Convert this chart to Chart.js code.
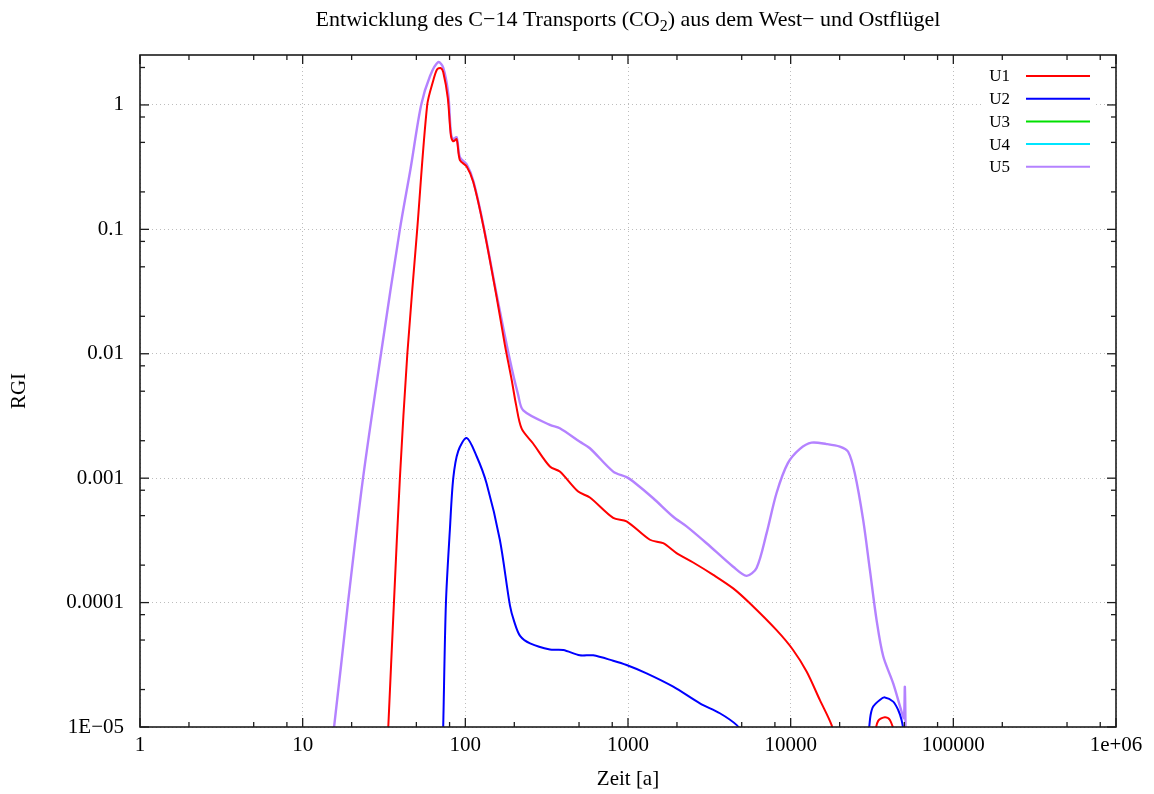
<!DOCTYPE html>
<html>
<head>
<meta charset="utf-8">
<script src="https://cdn.jsdelivr.net/npm/chart.js@4.4.1/dist/chart.umd.min.js"></script>
<style>
  html, body { margin: 0; padding: 0; background: #ffffff; }
  #wrap { width: 1154px; height: 794px; }
</style>
</head>
<body>
<div id="wrap"><canvas id="rgi-chart" width="1154" height="794"></canvas></div>
<script>
// Serien und Farben
const seriesNames = ['U1', 'U2', 'U3', 'U4', 'U5'];
const seriesColors = ['#ff0000', '#0000ff', '#00e000', '#00e5ff', '#b482ff'];

// Achsenbeschriftung
const xTickValues = [1, 10, 100, 1000, 10000, 100000, 1000000];
const xTickLabels = ['1', '10', '100', '1000', '10000', '100000', '1e+06'];
const yTickValues = [1e-5, 1e-4, 1e-3, 1e-2, 1e-1, 1];
const yTickLabels = ['1E\u221205', '0.0001', '0.001', '0.01', '0.1', '1'];
const minorSteps = [2, 5, 8];

// U1 (Zeit in a, RGI); null = Luecke unter 1E-05
const zeitU1 = [33.2, 33.6, 36.4, 39.6, 44.0, 50.6, 58.3, 63.5, 67.0, 70.5, 73.1, 78.0, 81.5, 84.3, 88.4, 92.6,
  101.9, 111.9, 128.9, 155.7, 175, 193, 205, 222, 261, 331, 381, 494, 583, 811, 980, 1364, 1645, 1987,
  2516, 3342, 4432, 5610, 8190, 10350, 12530, 15110, 17830, 18600, 25000, 32970, 34510, 37930, 40740, 43650];
const rgiU1 = [7e-6, 1e-5, 1e-4, 1e-3, 1e-2, 0.1, 1, 1.57, 1.93, 1.98, 1.84, 1.14, 0.57, 0.51, 0.53, 0.36,
  0.32, 0.24, 0.107, 0.0286, 0.0118, 0.0061, 0.0039, 0.0025, 0.0019, 0.00124, 0.00113, 0.00078, 0.0007,
  0.00048, 0.00045, 0.00032, 0.0003, 0.00025, 0.00021, 0.000167, 0.00013, 9.87e-5, 6.0e-5, 4.16e-5,
  2.79e-5, 1.65e-5, 1.04e-5, 8e-6, null, 9e-6, 1.12e-5, 1.2e-5, 1.14e-5, 9e-6];

// U2
const zeitU2 = [72.5, 73.1, 76.0, 80.4, 84.3, 90.4, 101.9, 117.3, 135, 163, 188, 200, 217, 250,
  331, 400, 506, 611, 811, 980, 1301, 1897, 2767, 3670, 4645, 5230, 20000, 30000, 30400, 31000, 32150,
  35320, 37930, 42690, 45810, 48060, 49660];
const rgiU2 = [7e-6, 1e-5, 1e-4, 3.9e-4, 1e-3, 0.00165, 0.0021, 0.0015, 0.00091, 0.00032, 9.5e-5,
  7e-5, 5.4e-5, 4.7e-5, 4.2e-5, 4.16e-5, 3.77e-5, 3.77e-5, 3.41e-5, 3.15e-5, 2.7e-5, 2.11e-5, 1.55e-5,
  1.29e-5, 1.04e-5, 8.5e-6, null, 9e-6, 1e-5, 1.25e-5, 1.46e-5, 1.65e-5, 1.73e-5, 1.6e-5, 1.37e-5,
  1.14e-5, 9e-6];

// U3, U4: keine Werte oberhalb 1E-05
const zeitU3 = [];
const rgiU3 = [];
const zeitU4 = [];
const rgiU4 = [];

// U5
const zeitU5 = [15, 15.6, 19.0, 23.5, 30.3, 39.6, 46.1, 53.5, 60.6, 68.2, 73.1, 78.5, 81.5, 84.3, 88.4,
  92.6, 101.9, 111.9, 128.9, 155.7, 188, 211, 227, 331, 381, 506, 583, 811, 980, 1076, 1429, 1897, 2291,
  3041, 4432, 5357, 6172, 7109, 8190, 9610, 11400, 13440, 16630, 20060, 22560, 24810, 27920, 30690,
  33760, 37070, 42690, 48060, 49660, 50350, 51000];
const rgiU5 = [8e-6, 1e-5, 1e-4, 1e-3, 1e-2, 0.1, 0.31, 1, 1.70, 2.21, 2.0, 1.23, 0.60, 0.53, 0.55,
  0.38, 0.333, 0.245, 0.109, 0.030, 0.0089, 0.0047, 0.0035, 0.00268, 0.00252, 0.00196, 0.00174, 0.00113,
  0.00102, 0.00094, 0.00069, 0.00049, 0.00041, 0.0003, 0.000194, 0.000164, 0.00019, 0.00036, 0.00076,
  0.00132, 0.00172, 0.00193, 0.00188, 0.00179, 0.00163, 0.00109, 0.00046, 0.000183, 7.2e-5, 3.7e-5,
  2.24e-5, 1.33e-5, 1.18e-5, 2.1e-5, 7e-6];

const zeitSeries = [zeitU1, zeitU2, zeitU3, zeitU4, zeitU5];
const rgiSeries = [rgiU1, rgiU2, rgiU3, rgiU4, rgiU5];

const serif = "'Liberation Serif', 'Times New Roman', serif";
const labelFont = { family: serif, size: 21 };

// Titel mit tiefgestellter 2 in CO2
const titlePlugin = {
  id: 'titelZeile',
  afterDraw(chart) {
    const { ctx, chartArea } = chart;
    const parts = [
      { t: 'Entwicklung des C\u221214 Transports (CO', sub: false },
      { t: '2', sub: true },
      { t: ') aus dem West\u2212 und Ostfl\u00fcgel', sub: false }
    ];
    const big = '22px ' + serif;
    const small = '16px ' + serif;
    ctx.save();
    ctx.fillStyle = '#000';
    ctx.textBaseline = 'alphabetic';
    let total = 0;
    parts.forEach(p => {
      ctx.font = p.sub ? small : big;
      p.w = ctx.measureText(p.t).width;
      total += p.w;
    });
    let xPos = (chartArea.left + chartArea.right) / 2 - total / 2;
    const base = 26;
    parts.forEach(p => {
      ctx.font = p.sub ? small : big;
      ctx.fillText(p.t, xPos, p.sub ? base + 5 : base);
      xPos += p.w;
    });
    ctx.restore();
  }
};

// Rahmen mit Haupt- und Nebenstrichen auf allen vier Seiten, dazu die Legende
const framePlugin = {
  id: 'rahmen',
  afterDraw(chart) {
    const { ctx, chartArea: a, scales: { x, y } } = chart;
    ctx.save();

    // Legende oben rechts
    const legX = a.right - 26;
    const legY = a.top + 21;
    const rowH = 22.7;
    ctx.fillStyle = '#ffffff';
    ctx.fillRect(a.right - 132, a.top + 7, 112, rowH * seriesNames.length + 6);
    ctx.font = '17px ' + serif;
    ctx.textAlign = 'right';
    ctx.textBaseline = 'middle';
    seriesNames.forEach((name, i) => {
      const yy = legY + i * rowH;
      ctx.fillStyle = '#000';
      ctx.fillText(name, legX - 80, yy + 1);
      ctx.strokeStyle = seriesColors[i];
      ctx.lineWidth = 2;
      ctx.beginPath();
      ctx.moveTo(legX - 64, yy);
      ctx.lineTo(legX, yy);
      ctx.stroke();
    });

    ctx.strokeStyle = '#1c1c1c';
    ctx.lineWidth = 1.3;
    const tick = (x1, y1, x2, y2) => {
      ctx.beginPath();
      ctx.moveTo(x1, y1);
      ctx.lineTo(x2, y2);
      ctx.stroke();
    };
    // x-Achse
    xTickValues.forEach(v => {
      const px = x.getPixelForValue(v);
      tick(px, a.bottom, px, a.bottom - 9);
      tick(px, a.top, px, a.top + 9);
      minorSteps.forEach(m => {
        const mv = v * m;
        if (mv >= x.max) return;
        const mp = x.getPixelForValue(mv);
        tick(mp, a.bottom, mp, a.bottom - 5);
        tick(mp, a.top, mp, a.top + 5);
      });
    });
    // y-Achse
    yTickValues.forEach(v => {
      const py = y.getPixelForValue(v);
      tick(a.left, py, a.left + 9, py);
      tick(a.right, py, a.right - 9, py);
      minorSteps.forEach(m => {
        const mv = v * m;
        if (mv >= y.max) return;
        const mp = y.getPixelForValue(mv);
        tick(a.left, mp, a.left + 5, mp);
        tick(a.right, mp, a.right - 5, mp);
      });
    });
    ctx.lineWidth = 1.6;
    ctx.strokeRect(a.left, a.top, a.right - a.left, a.bottom - a.top);
    ctx.restore();
  }
};

const datasets = seriesNames.map((name, i) => ({
  label: name,
  data: zeitSeries[i].map((t, k) => ({ x: t, y: rgiSeries[i][k] })),
  borderColor: seriesColors[i],
  backgroundColor: seriesColors[i],
  borderWidth: i === 4 ? 2.4 : 2,
  pointRadius: 0,
  tension: 0.3,
  spanGaps: false,
  fill: false
}));

const ctx = document.getElementById('rgi-chart').getContext('2d');
new Chart(ctx, {
  type: 'line',
  data: { datasets },
  options: {
    responsive: false,
    animation: false,
    layout: { padding: { top: 55, right: 38, left: 0, bottom: 0 } },
    plugins: {
      legend: { display: false },
      tooltip: { enabled: false },
      title: { display: false }
    },
    scales: {
      x: {
        type: 'logarithmic',
        min: 1,
        max: 1e6,
        afterBuildTicks: s => { s.ticks = xTickValues.map(v => ({ value: v })); },
        afterFit: s => { s.height = 67; },
        ticks: {
          callback: (v, i) => xTickLabels[i],
          font: labelFont,
          color: '#000',
          padding: 6,
          maxRotation: 0,
          autoSkip: false
        },
        grid: { color: '#bdbdbd', lineWidth: 1, drawTicks: false },
        border: { display: false, dash: [1, 3] },
        title: {
          display: true,
          text: 'Zeit [a]',
          font: labelFont,
          color: '#000',
          padding: { top: 0, bottom: 2 }
        }
      },
      y: {
        type: 'logarithmic',
        min: 1e-5,
        max: 2.52,
        afterBuildTicks: s => { s.ticks = yTickValues.map(v => ({ value: v })); },
        afterFit: s => { s.width = 140; },
        ticks: {
          callback: (v, i) => yTickLabels[i],
          font: labelFont,
          color: '#000',
          padding: 16,
          autoSkip: false
        },
        grid: { color: '#bdbdbd', lineWidth: 1, drawTicks: false },
        border: { display: false, dash: [1, 3] },
        title: {
          display: true,
          text: 'RGI',
          font: labelFont,
          color: '#000',
          padding: { top: 7, bottom: 0 }
        }
      }
    }
  },
  plugins: [titlePlugin, framePlugin]
});
</script>
</body>
</html>
